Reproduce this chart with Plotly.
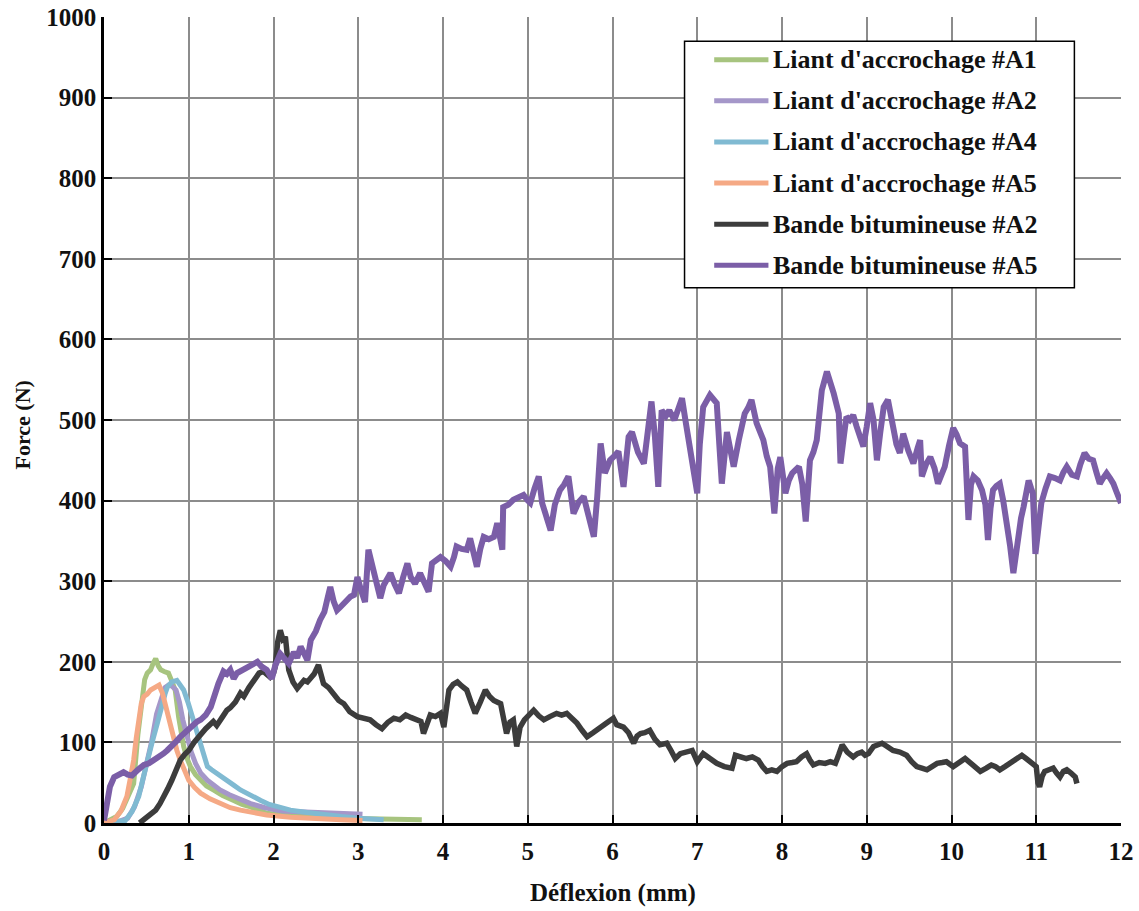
import plotly.graph_objects as go

# ---- Data: deflection (mm) and force (N) for each specimen ----
liant_a1_x = [0.00, 0.07, 0.15, 0.22, 0.30, 0.35, 0.40, 0.45, 0.48, 0.51, 0.55, 0.58, 0.61, 0.64, 0.67,
              0.71, 0.76, 0.80, 0.84, 0.88, 0.91, 0.94, 0.98, 1.02, 1.08, 1.14, 1.21, 1.29, 1.40, 1.53,
              1.63, 1.73, 1.83, 1.92, 2.10, 2.30, 2.50, 2.80, 3.10, 3.40, 3.75]
liant_a1_y = [0, 3, 8, 18, 35, 49, 110, 161, 178, 186, 190, 198, 204, 195, 190,
              188, 186, 176, 165, 132, 112, 95, 80, 70, 60, 53, 46, 41, 34, 28,
              23, 20, 16, 12, 10, 8, 7, 6, 5, 5, 4]

liant_a2_x = [0.00, 0.18, 0.28, 0.36, 0.44, 0.50, 0.56, 0.62, 0.68, 0.72, 0.76, 0.80, 0.85, 0.89, 0.93,
              0.98, 1.03, 1.08, 1.14, 1.22, 1.30, 1.37, 1.48, 1.60, 1.73, 1.90, 2.10, 2.30, 2.50, 2.70,
              2.90, 3.05]
liant_a2_y = [0, 2, 6, 20, 45, 70, 100, 135, 158, 168, 171, 170, 165, 150, 128,
              107, 88, 74, 62, 53, 46, 41, 35, 29, 24, 19, 15, 14, 13, 13,
              12, 11]

liant_a4_x = [0.00, 0.15, 0.25, 0.33, 0.41, 0.46, 0.51, 0.57, 0.63, 0.66, 0.69, 0.72, 0.75, 0.80, 0.86,
              0.90, 0.94, 0.99, 1.04, 1.09, 1.14, 1.18, 1.22, 1.27, 1.33, 1.39, 1.45, 1.53, 1.61, 1.73,
              1.85, 1.95, 2.04, 2.20, 2.40, 2.60, 2.80, 3.00, 3.30]
liant_a4_y = [0, 1, 3, 14, 33, 55, 78, 101, 124, 137, 148, 160, 169, 175, 177,
              172, 165, 150, 132, 115, 99, 84, 70, 66, 62, 58, 53, 47, 41, 34,
              28, 23, 20, 16, 13, 10, 8, 6, 4]

liant_a5_x = [0.00, 0.12, 0.20, 0.27, 0.31, 0.35, 0.38, 0.41, 0.44, 0.47, 0.51, 0.55, 0.60, 0.65, 0.69,
              0.72, 0.75, 0.79, 0.82, 0.86, 0.90, 0.95, 1.00, 1.07, 1.14, 1.25, 1.37, 1.49, 1.61, 1.76,
              1.92, 2.20, 2.50, 2.80, 3.05]
liant_a5_y = [0, 4, 15, 33, 55, 78, 105, 132, 148, 157, 160, 165, 168, 171, 161,
              148, 132, 118, 103, 90, 78, 64, 53, 44, 37, 30, 24, 19, 16, 13,
              10, 7, 5, 4, 3]

bande_a2_x = [0.42, 0.47, 0.54, 0.61, 0.66, 0.71, 0.75, 0.80, 0.85, 0.90, 0.95, 1.00, 1.07, 1.14, 1.20,
              1.29, 1.33, 1.40, 1.45, 1.49, 1.55, 1.61, 1.65, 1.71, 1.77, 1.83, 1.88, 1.93, 1.96, 2.00,
              2.02, 2.05, 2.08, 2.11, 2.14, 2.18, 2.23, 2.28, 2.32, 2.36, 2.40, 2.44, 2.48, 2.53, 2.56,
              2.59, 2.65, 2.71, 2.77, 2.83, 2.90, 2.99, 3.06, 3.14, 3.21, 3.28, 3.35, 3.42, 3.49, 3.56,
              3.62, 3.69, 3.74, 3.77, 3.81, 3.85, 3.91, 3.97, 4.01, 4.04, 4.07, 4.12, 4.17, 4.22, 4.28,
              4.33, 4.38, 4.44, 4.50, 4.55, 4.60, 4.68, 4.72, 4.75, 4.79, 4.83, 4.87, 4.91, 4.96, 5.02,
              5.07, 5.13, 5.19, 5.26, 5.34, 5.40, 5.46, 5.52, 5.58, 5.64, 5.70, 5.77, 5.85, 5.93, 6.01,
              6.05, 6.13, 6.19, 6.25, 6.29, 6.33, 6.38, 6.44, 6.50, 6.56, 6.64, 6.69, 6.74, 6.80, 6.87,
              6.94, 7.00, 7.07, 7.15, 7.23, 7.32, 7.41, 7.45, 7.52, 7.58, 7.65, 7.72, 7.77, 7.82, 7.88,
              7.94, 8.00, 8.06, 8.12, 8.17, 8.23, 8.29, 8.33, 8.37, 8.44, 8.51, 8.57, 8.63, 8.67, 8.71,
              8.77, 8.84, 8.89, 8.94, 8.98, 9.02, 9.08, 9.13, 9.18, 9.24, 9.31, 9.39, 9.47, 9.53, 9.59,
              9.65, 9.71, 9.77, 9.83, 9.89, 9.94, 10.02, 10.09, 10.16, 10.25, 10.34, 10.41, 10.47, 10.52, 10.57,
              10.63, 10.69, 10.76, 10.83, 10.88, 10.93, 10.97, 11.00, 11.02, 11.04, 11.07, 11.10, 11.15, 11.20, 11.24,
              11.28, 11.32, 11.36, 11.41, 11.46, 11.48]
bande_a2_y = [0, 4, 9, 16, 24, 33, 42, 53, 66, 78, 85, 90, 101, 111, 117,
              126, 121, 132, 140, 143, 150, 161, 157, 168, 177, 186, 188, 183, 181, 186,
              194, 225, 239, 228, 231, 190, 175, 167, 172, 177, 175, 181, 185, 196, 185,
              173, 168, 161, 152, 148, 138, 132, 130, 128, 122, 117, 125, 130, 128, 134,
              131, 128, 126, 111, 125, 134, 132, 136, 119, 140, 165, 172, 175, 170, 165,
              150, 136, 150, 165, 157, 152, 148, 130, 111, 125, 128, 95, 119, 128, 136,
              140, 133, 128, 132, 136, 134, 136, 130, 124, 115, 107, 112, 119, 124, 130,
              122, 119, 112, 99, 108, 111, 112, 115, 104, 97, 99, 90, 80, 86, 88,
              90, 76, 86, 80, 74, 70, 68, 84, 82, 80, 82, 78, 70, 64, 66,
              64, 70, 74, 75, 76, 82, 86, 78, 72, 75, 74, 76, 74, 85, 97,
              88, 82, 86, 88, 84, 86, 95, 97, 99, 95, 90, 88, 84, 76, 70,
              68, 66, 70, 74, 75, 76, 70, 76, 80, 72, 64, 68, 72, 70, 66,
              70, 74, 80, 84, 80, 76, 72, 70, 50, 45, 58, 64, 66, 68, 62,
              57, 64, 66, 62, 57, 49]

bande_a5_x = [0.00, 0.03, 0.07, 0.12, 0.18, 0.23, 0.28, 0.33, 0.40, 0.47, 0.53, 0.59, 0.66, 0.70, 0.745,
              0.80, 0.85, 0.90, 0.95, 1.00, 1.06, 1.10, 1.14, 1.20, 1.26, 1.30, 1.35, 1.41, 1.45, 1.49,
              1.53, 1.57, 1.61, 1.66, 1.71, 1.76, 1.81, 1.86, 1.92, 1.98, 2.02, 2.08, 2.13, 2.18, 2.24,
              2.28, 2.32, 2.36, 2.40, 2.44, 2.50, 2.55, 2.60, 2.64, 2.67, 2.71, 2.75, 2.79, 2.85, 2.91,
              2.95, 2.99, 3.03, 3.08, 3.12, 3.15, 3.18, 3.22, 3.26, 3.30, 3.34, 3.38, 3.43, 3.48, 3.53,
              3.58, 3.62, 3.67, 3.73, 3.78, 3.83, 3.87, 3.92, 3.97, 4.03, 4.09, 4.13, 4.16, 4.22, 4.28,
              4.32, 4.36, 4.40, 4.44, 4.48, 4.54, 4.60, 4.64, 4.68, 4.70, 4.71, 4.77, 4.83, 4.89, 4.95,
              5.00, 5.03, 5.08, 5.13, 5.17, 5.22, 5.27, 5.32, 5.38, 5.43, 5.48, 5.54, 5.60, 5.66, 5.72,
              5.78, 5.82, 5.86, 5.91, 5.97, 6.02, 6.07, 6.13, 6.19, 6.23, 6.30, 6.37, 6.42, 6.46, 6.50,
              6.54, 6.58, 6.63, 6.67, 6.73, 6.78, 6.82, 6.86, 6.90, 6.95, 7.00, 7.03, 7.07, 7.15, 7.23,
              7.26, 7.29, 7.35, 7.40, 7.43, 7.49, 7.56, 7.60, 7.64, 7.70, 7.74, 7.78, 7.82, 7.86, 7.91,
              7.95, 7.98, 8.04, 8.08, 8.12, 8.16, 8.20, 8.24, 8.28, 8.33, 8.37, 8.41, 8.47, 8.53, 8.57,
              8.61, 8.67, 8.69, 8.73, 8.76, 8.80, 8.84, 8.88, 8.92, 8.96, 9.00, 9.04, 9.08, 9.12, 9.16,
              9.20, 9.25, 9.31, 9.35, 9.39, 9.43, 9.49, 9.55, 9.60, 9.63, 9.65, 9.70, 9.75, 9.80, 9.84,
              9.88, 9.92, 9.97, 10.02, 10.06, 10.10, 10.16, 10.20, 10.23, 10.26, 10.31, 10.36, 10.40, 10.43, 10.46,
              10.49, 10.53, 10.57, 10.61, 10.65, 10.69, 10.73, 10.76, 10.79, 10.82, 10.85, 10.88, 10.91, 10.94, 10.96,
              10.99, 11.03, 11.06, 11.11, 11.16, 11.22, 11.28, 11.32, 11.36, 11.42, 11.48, 11.52, 11.57, 11.62, 11.67,
              11.71, 11.75, 11.79, 11.83, 11.87, 11.91, 11.95, 12.00]
bande_a5_y = [3, 25, 45, 57, 61, 63, 60, 59, 66, 72, 74, 78, 82, 86, 90,
              95, 101, 107, 112, 118, 124, 126, 128, 134, 144, 160, 173, 188, 185, 190,
              179, 186, 188, 191, 195, 197, 200, 194, 190, 179, 195, 210, 203, 198, 212,
              205, 219, 208, 202, 227, 238, 252, 262, 280, 293, 275, 264, 268, 276, 281,
              283, 305, 290, 274, 339, 325, 318, 300, 279, 295, 303, 310, 296, 285, 305,
              322, 305, 297, 310, 300, 287, 322, 326, 330, 325, 318, 330, 343, 340, 339,
              353, 335, 318, 340, 355, 352, 355, 372, 355, 339, 392, 395, 401, 404, 407,
              400, 397, 415, 430, 397, 380, 363, 395, 413, 420, 430, 384, 398, 405, 380,
              355, 405, 471, 434, 450, 455, 461, 417, 479, 485, 460, 446, 490, 523, 480,
              417, 512, 505, 512, 500, 515, 527, 500, 475, 440, 409, 470, 516, 531, 521,
              470, 421, 485, 460, 442, 475, 508, 515, 525, 496, 485, 475, 455, 442, 384,
              440, 454, 409, 425, 434, 438, 442, 420, 374, 450, 460, 475, 537, 560, 548,
              533, 508, 446, 480, 504, 500, 506, 492, 479, 467, 492, 521, 500, 450, 485,
              516, 525, 487, 470, 459, 483, 462, 446, 465, 475, 430, 445, 454, 440, 421,
              430, 442, 468, 490, 482, 471, 467, 376, 420, 430, 425, 413, 395, 351, 390,
              413, 418, 421, 400, 376, 345, 310, 335, 359, 378, 392, 410, 425, 415, 409,
              334, 370, 397, 415, 430, 428, 425, 435, 442, 432, 430, 445, 459, 452, 450,
              435, 421, 428, 434, 428, 421, 410, 397]

series_names = ["Liant d'accrochage #A1", "Liant d'accrochage #A2", "Liant d'accrochage #A4",
                "Liant d'accrochage #A5", "Bande bitumineuse #A2", "Bande bitumineuse #A5"]
series_x = [liant_a1_x, liant_a2_x, liant_a4_x, liant_a5_x, bande_a2_x, bande_a5_x]
series_y = [liant_a1_y, liant_a2_y, liant_a4_y, liant_a5_y, bande_a2_y, bande_a5_y]

x_ticks = list(range(0, 13))
y_ticks = list(range(0, 1001, 100))

# ---- Styling ----
colors = ["#A7C47F", "#A597C9", "#80BAD2", "#F5A985", "#3C3C3C", "#7B5EA7"]
widths = [5, 5, 5, 5, 5.5, 6]
FONT = "Liberation Serif"

fig = go.Figure()
for name, xs, ys, col, w in zip(series_names, series_x, series_y, colors, widths):
    fig.add_trace(go.Scatter(x=xs, y=ys, mode="lines", name=name,
                             line=dict(color=col, width=w, shape="linear"),
                             showlegend=False))

# Hand-built legend box (data coordinates)
leg_x0, leg_x1 = 6.85, 11.45
leg_y0, leg_y1 = 664, 970
leg_line_x0, leg_line_x1 = 7.20, 7.84
leg_rows = [947, 896, 845, 794, 743, 692]

shapes = [dict(type="rect", xref="x", yref="y", x0=leg_x0, x1=leg_x1, y0=leg_y0, y1=leg_y1,
               fillcolor="white", line=dict(color="black", width=1.5), layer="above")]
annotations = []
for name, col, ry in zip(series_names, colors, leg_rows):
    shapes.append(dict(type="line", xref="x", yref="y", x0=leg_line_x0, x1=leg_line_x1,
                       y0=ry, y1=ry, line=dict(color=col, width=5), layer="above"))
    annotations.append(dict(x=leg_line_x1 + 0.03, y=ry, xref="x", yref="y", text=name,
                            showarrow=False, xanchor="left", yanchor="middle",
                            font=dict(family=FONT, size=26, color="#111111", weight="bold")))

# Axis titles
annotations.append(dict(x=0.5, y=-0.087, xref="paper", yref="paper", text="Déflexion (mm)",
                        showarrow=False, xanchor="center", yanchor="middle",
                        font=dict(family=FONT, size=25, color="#111111", weight="bold")))
annotations.append(dict(x=-0.08, y=0.494, xref="paper", yref="paper", text="Force (N)",
                        showarrow=False, xanchor="center", yanchor="middle", textangle=-90,
                        font=dict(family=FONT, size=22, color="#111111", weight="bold")))

axis_common = dict(showgrid=True, gridcolor="#8C8C8C", gridwidth=1.5,
                   showline=True, linecolor="black", linewidth=2.5,
                   ticks="inside", ticklen=8, tickwidth=2, tickcolor="black",
                   tickfont=dict(family=FONT, size=25, color="#111111", weight="bold"),
                   zeroline=False, mirror=False, automargin=False,
                   ticklabeloverflow="allow")

fig.update_xaxes(range=[0, 12], tickvals=x_ticks, ticktext=[str(v) for v in x_ticks],
                 ticklabelstandoff=4, **axis_common)
fig.update_yaxes(range=[0, 1000], tickvals=y_ticks, ticktext=[str(v) for v in y_ticks], **axis_common)

fig.update_layout(width=1139, height=911,
                  margin=dict(l=104, r=18, t=17, b=88),
                  paper_bgcolor="white", plot_bgcolor="white",
                  shapes=shapes, annotations=annotations,
                  showlegend=False)

fig.write_html("out.html")
